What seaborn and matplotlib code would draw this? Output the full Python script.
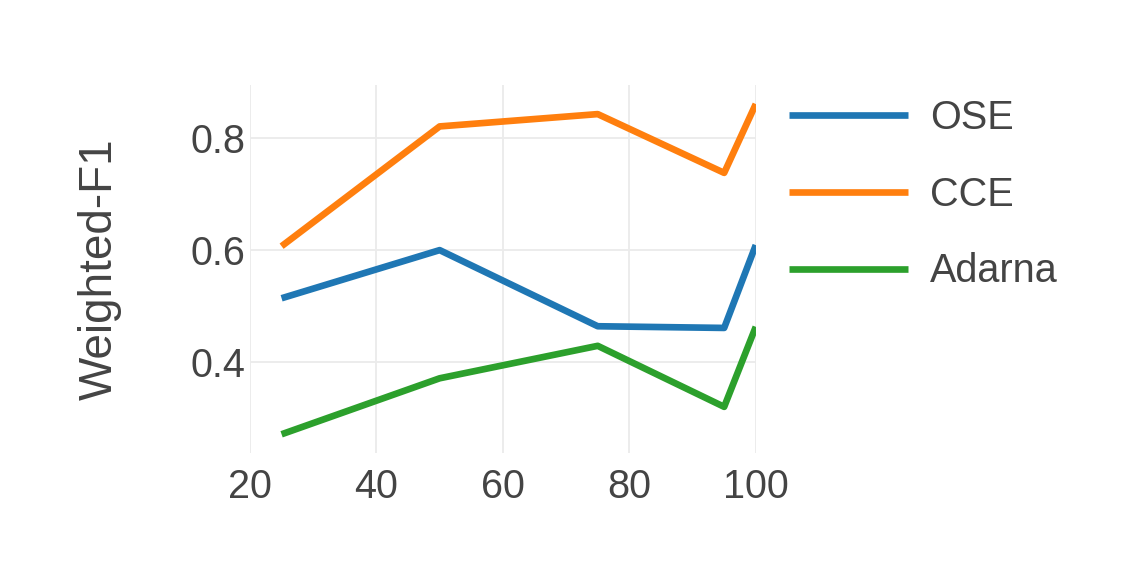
import pandas as pd
import seaborn as sns
import matplotlib.pyplot as plt

# percentage of training data
x_vals = [25, 50, 75, 95, 100]

ose = [0.514, 0.600, 0.464, 0.461, 0.609]
cce = [0.607, 0.821, 0.843, 0.738, 0.861]
adarna = [0.271, 0.371, 0.429, 0.320, 0.463]

methods = ['OSE', 'CCE', 'Adarna']
colors = ['#1f77b4', '#ff7f0e', '#2ca02c']

df = pd.DataFrame({
    'x': x_vals * 3,
    'f1': ose + cce + adarna,
    'method': ['OSE'] * 5 + ['CCE'] * 5 + ['Adarna'] * 5,
})

sns.set_style('white')
plt.rcParams['font.family'] = ['Liberation Sans', 'DejaVu Sans']
txt = '#444444'

fig = plt.figure(figsize=(11.23, 5.85), dpi=100)
ax = fig.add_axes([0.2226, 0.2256, 0.4504, 0.6291])

sns.lineplot(data=df, x='x', y='f1', hue='method', hue_order=methods,
             palette=colors, linewidth=4.8, ax=ax, sort=False)
for l in ax.get_lines():
    l.set_solid_capstyle('butt')

ax.set_xlim(20, 100)
ax.set_ylim(0.2375, 0.895)
ax.set_xticks([20, 40, 60, 80, 100])
ax.set_yticks([0.4, 0.6, 0.8])
ax.grid(True, color='#ebebeb', linewidth=1.3)
ax.set_axisbelow(True)
for s in ax.spines.values():
    s.set_visible(False)
ax.tick_params(axis='both', length=0, labelsize=28.5, colors=txt)
ax.tick_params(axis='x', pad=11)
ax.tick_params(axis='y', pad=3)
ax.set_xlabel('')
ax.set_ylabel('Weighted-F1', fontsize=33, color=txt, labelpad=50)

ax.legend_.remove()
handles, labels = ax.get_legend_handles_labels()
leg = fig.legend(handles, labels, loc='upper left', bbox_to_anchor=(0.671, 0.892),
                 frameon=False, fontsize=28.5, handlelength=3.0, handletextpad=0.55,
                 labelspacing=0.98)
for t in leg.get_texts():
    t.set_color(txt)
for l in leg.get_lines():
    l.set_linewidth(4.8)
    l.set_solid_capstyle('butt')

fig.savefig('out.png', dpi=100)
